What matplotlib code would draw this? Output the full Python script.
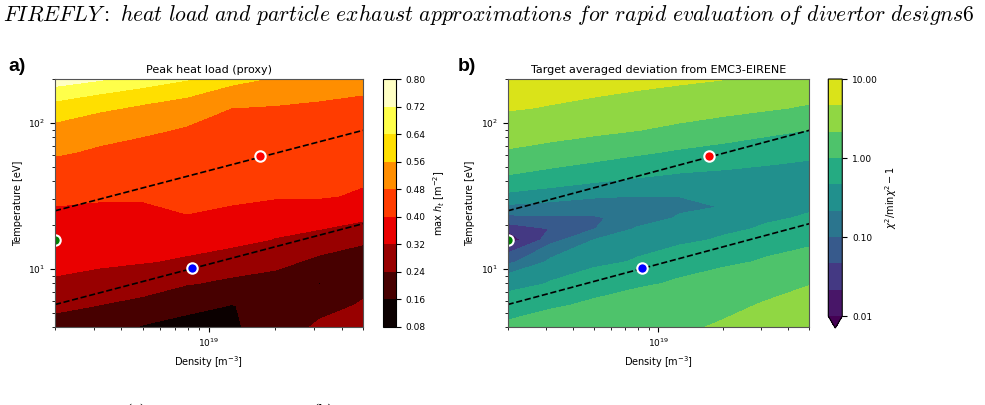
import numpy as np
import matplotlib
matplotlib.use('Agg')
import matplotlib.pyplot as plt
from matplotlib.colors import LogNorm

# grid on which the two maps were read (log10 of density / temperature)
log_n = [18.29, 18.50, 18.70, 18.90, 19.10, 19.30, 19.50, 19.71]
log_T_a = [0.59, 0.75, 0.90, 1.05, 1.20, 1.35, 1.50, 1.65, 1.80, 1.95, 2.10, 2.31]
log_T_b = [0.59, 0.75, 0.90, 1.05, 1.20, 1.275, 1.35, 1.425, 1.50, 1.65, 1.80, 1.95, 2.10, 2.31]

# a) peak heat load proxy, rows follow log_T_a, columns follow log_n
heat_load = [
    [0.209, 0.188, 0.150, 0.127, 0.152, 0.190, 0.262, 0.300],
    [0.260, 0.239, 0.220, 0.186, 0.158, 0.180, 0.200, 0.257],
    [0.312, 0.294, 0.274, 0.244, 0.224, 0.215, 0.158, 0.200],
    [0.340, 0.333, 0.324, 0.309, 0.287, 0.259, 0.222, 0.196],
    [0.363, 0.358, 0.353, 0.355, 0.341, 0.316, 0.291, 0.253],
    [0.386, 0.382, 0.381, 0.397, 0.386, 0.366, 0.359, 0.331],
    [0.415, 0.408, 0.408, 0.417, 0.412, 0.406, 0.406, 0.390],
    [0.451, 0.439, 0.434, 0.435, 0.428, 0.423, 0.422, 0.414],
    [0.489, 0.469, 0.459, 0.454, 0.445, 0.440, 0.437, 0.431],
    [0.539, 0.513, 0.490, 0.472, 0.462, 0.457, 0.453, 0.448],
    [0.608, 0.572, 0.544, 0.518, 0.479, 0.474, 0.469, 0.464],
    [0.779, 0.739, 0.697, 0.653, 0.594, 0.555, 0.524, 0.505],
]
heat_levels = [0.08, 0.16, 0.24, 0.32, 0.40, 0.48, 0.56, 0.64, 0.72, 0.80]

# b) log10 of chi^2/min chi^2 - 1, rows follow log_T_b
log_chi = [
    [0.058, 0.126, 0.198, 0.273, 0.310, 0.360, 0.497, 0.557],
    [-0.172, -0.034, 0.050, 0.122, 0.197, 0.277, 0.357, 0.424],
    [-0.524, -0.311, -0.174, -0.049, 0.042, 0.118, 0.210, 0.325],
    [-1.19, -0.619, -0.429, -0.302, -0.176, -0.062, 0.032, 0.112],
    [-2.2, -1.217, -0.666, -0.528, -0.410, -0.293, -0.178, -0.072],
    [-1.66, -1.32, -1.02, -0.639, -0.520, -0.408, -0.289, -0.179],
    [-1.13, -1.064, -1.05, -0.85, -0.630, -0.525, -0.387, -0.287],
    [-0.752, -0.810, -0.835, -0.86, -0.74, -0.655, -0.474, -0.381],
    [-0.427, -0.539, -0.633, -0.665, -0.66, -0.580, -0.575, -0.466],
    [0.013, -0.097, -0.194, -0.278, -0.352, -0.388, -0.424, -0.462],
    [0.304, 0.218, 0.129, 0.042, -0.049, -0.131, -0.204, -0.266],
    [0.506, 0.451, 0.394, 0.337, 0.251, 0.162, 0.072, -0.015],
    [0.689, 0.644, 0.590, 0.534, 0.478, 0.420, 0.360, 0.284],
    [0.876, 0.837, 0.799, 0.760, 0.722, 0.684, 0.634, 0.577],
]
chi_levels = [0.01, 0.0215, 0.0464, 0.1, 0.215, 0.464, 1.0, 2.15, 4.64, 10.0]

# dashed guide lines and the three marked cases
line_n = [2e18, 5e19]
upper_line_T = [25.0, 89.0]
lower_line_T = [5.7, 20.4]
case_n = [1.71e19, 8.4e18, 2.0e18]
case_T = [59.0, 10.1, 15.7]
case_colors = ['red', 'blue', 'green']

n_lim = (2e18, 5e19)
T_lim = (4, 200)

fig = plt.figure(figsize=(9.85, 4.05), dpi=100)

fig.text(0.003, 0.963,
         r'$\mathit{FIREFLY{:}\ heat\ load\ and\ particle\ exhaust\ approximations\ for\ rapid\ evaluation\ of\ divertor\ designs}\mathrm{6}$',
         fontsize=15.6, va='center', ha='left', math_fontfamily='cm')

ax_a = fig.add_axes([0.0558, 0.1926, 0.3127, 0.6123])
cax_a = fig.add_axes([0.3888, 0.1926, 0.0132, 0.6123])
ax_b = fig.add_axes([0.5154, 0.1926, 0.3062, 0.6123])
cax_b = fig.add_axes([0.8409, 0.1900, 0.0142, 0.6149])

N_a, T_a = np.meshgrid(10.0 ** np.array(log_n), 10.0 ** np.array(log_T_a))
N_b, T_b = np.meshgrid(10.0 ** np.array(log_n), 10.0 ** np.array(log_T_b))

cs_a = ax_a.contourf(N_a, T_a, np.array(heat_load), levels=heat_levels,
                     cmap='hot', vmin=0.14, vmax=0.80)
cs_b = ax_b.contourf(N_b, T_b, 10.0 ** np.array(log_chi), levels=chi_levels,
                     cmap='viridis', norm=LogNorm(vmin=0.01, vmax=10), extend='min')

for ax, title in [(ax_a, 'Peak heat load (proxy)'),
                  (ax_b, 'Target averaged deviation from EMC3-EIRENE')]:
    ax.set_xscale('log')
    ax.set_yscale('log')
    ax.plot(line_n, upper_line_T, 'k--', lw=1.2)
    ax.plot(line_n, lower_line_T, 'k--', lw=1.2)
    for n, T, c in zip(case_n, case_T, case_colors):
        ax.plot(n, T, 'o', color=c, markersize=7.5, markeredgecolor='white',
                markeredgewidth=1.5)
    ax.set_xlim(n_lim)
    ax.set_ylim(T_lim)
    ax.set_title(title, fontsize=8, pad=4)
    ax.set_xlabel('Density [m$^{-3}$]', fontsize=7)
    ax.set_ylabel('Temperature [eV]', fontsize=7)
    ax.tick_params(labelsize=6.5)
    for s in ax.spines.values():
        s.set_color('#555555')

cb_a = fig.colorbar(cs_a, cax=cax_a, ticks=heat_levels, format='%.2f')
cb_a.set_label(r'max $h_t$ [m$^{-2}$]', fontsize=7)
cb_a.ax.tick_params(labelsize=6.5)

cb_b = fig.colorbar(cs_b, cax=cax_b, ticks=[0.01, 0.1, 1, 10], format='%.2f')
cb_b.ax.minorticks_off()
cb_b.set_label(r'$\chi^2/\min\chi^2 - 1$', fontsize=7)
cb_b.ax.tick_params(labelsize=6.5)

fig.text(0.008, 0.825, 'a)', fontsize=14, fontweight='bold', family='Liberation Sans')
fig.text(0.465, 0.825, 'b)', fontsize=14, fontweight='bold', family='Liberation Sans')

# sub-figure captions cut by the page crop
fig.text(0.139, 0.004, '(a)', fontsize=10, family='DejaVu Serif', ha='center', va='top')
fig.text(0.329, 0.004, '(b)', fontsize=10, family='DejaVu Serif', ha='center', va='top')

fig.savefig('out.png', dpi=100)
